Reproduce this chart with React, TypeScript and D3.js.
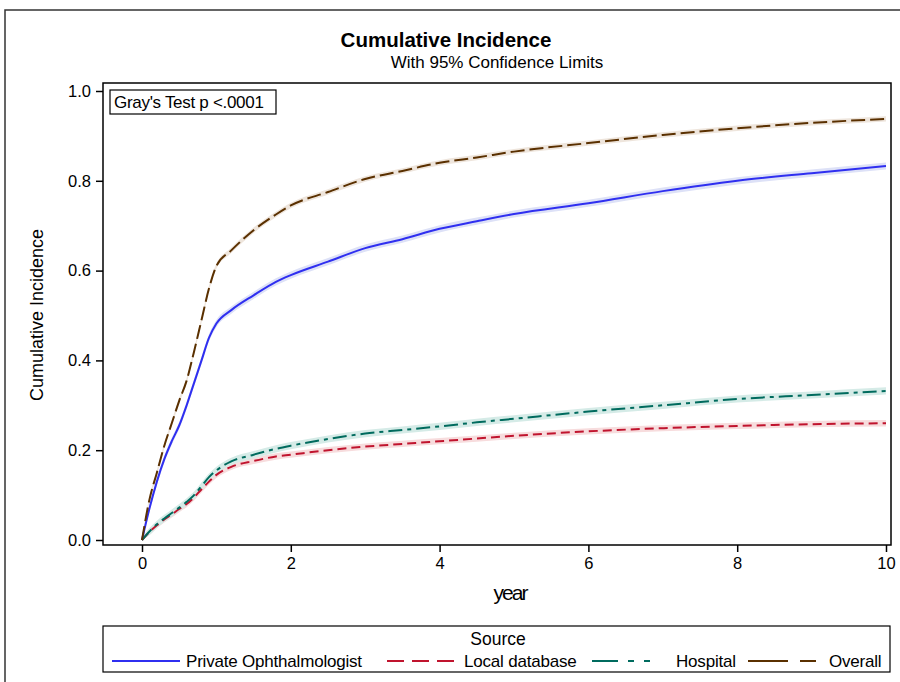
import React, { useEffect, useRef } from 'react';
import * as d3 from 'd3';

// time points (years) used by all series
const years = [0, 0.1, 0.2, 0.3, 0.4, 0.5, 0.6, 0.7, 0.8, 0.9, 1.0, 1.2, 1.5, 1.8, 2, 2.5, 3, 3.5, 4, 4.5, 5, 6, 7, 8, 9, 10];

const privateOph = [0, 0.07, 0.13, 0.18, 0.22, 0.255, 0.3, 0.35, 0.4, 0.45, 0.482, 0.512, 0.545, 0.575, 0.59, 0.62, 0.65, 0.67, 0.693, 0.71, 0.726, 0.75, 0.777, 0.8, 0.817, 0.833];
const localDb = [0, 0.018, 0.033, 0.046, 0.057, 0.069, 0.08, 0.095, 0.113, 0.13, 0.145, 0.163, 0.176, 0.186, 0.19, 0.2, 0.208, 0.214, 0.22, 0.226, 0.232, 0.242, 0.249, 0.254, 0.258, 0.26];
const hospital = [0, 0.019, 0.035, 0.048, 0.06, 0.072, 0.085, 0.1, 0.12, 0.14, 0.155, 0.175, 0.19, 0.203, 0.21, 0.225, 0.237, 0.245, 0.253, 0.262, 0.27, 0.286, 0.3, 0.314, 0.323, 0.332];
const overall = [0, 0.09, 0.15, 0.21, 0.26, 0.31, 0.355, 0.42, 0.49, 0.56, 0.61, 0.645, 0.69, 0.725, 0.745, 0.775, 0.804, 0.822, 0.84, 0.852, 0.865, 0.884, 0.902, 0.917, 0.929, 0.938];

// approx half width of the 95% confidence band, per series
const bandHalfWidth = [0.008, 0.007, 0.008, 0.006];

const seriesNames = ['Private Ophthalmologist', 'Local database', 'Hospital', 'Overall'];
const seriesColors = ['#2f2ff0', '#c0142e', '#006b5e', '#5a3000'];
const bandColors = ['#dde1f7', '#f7dcdd', '#d5ebe7', '#eee5dc'];
const dashes = ['none', '9,5', '14,5,4,5', '14,5'];
const legendDashes = ['none', '17,8', '26,10,6,10,6,10', '40,12'];

const xTicks = [0, 2, 4, 6, 8, 10];
const yTicks = [0, 0.2, 0.4, 0.6, 0.8, 1.0];

const FONT = '"Liberation Sans", Arial, sans-serif';

export default function App() {
  const svgRef = useRef<SVGSVGElement | null>(null);

  useEffect(() => {
    const svg = d3.select(svgRef.current);
    svg.selectAll('*').remove();

    const W = 900;
    const H = 682;
    svg.attr('width', W).attr('height', H);

    svg.append('rect').attr('width', W).attr('height', H).attr('fill', '#fff');
    // outer border
    svg.append('rect')
      .attr('x', 5).attr('y', 10).attr('width', W + 10).attr('height', H + 10)
      .attr('fill', 'none').attr('stroke', '#333').attr('stroke-width', 1.5);

    const frame = { left: 103, right: 891, top: 83, bottom: 545 };
    const x = d3.scaleLinear().domain([0, 10]).range([142, 886]);
    const y = d3.scaleLinear().domain([0, 1]).range([540, 91]);

    // titles
    svg.append('text').attr('x', 446).attr('y', 47).attr('text-anchor', 'middle')
      .attr('font-family', FONT).attr('font-size', 20.5).attr('font-weight', 'bold')
      .text('Cumulative Incidence');
    svg.append('text').attr('x', 497).attr('y', 68).attr('text-anchor', 'middle')
      .attr('font-family', FONT).attr('font-size', 17)
      .text('With 95% Confidence Limits');

    const allSeries = [privateOph, localDb, hospital, overall];
    const g = svg.append('g');

    // bands
    allSeries.forEach((vals, i) => {
      const area = d3.area<number>()
        .x((_, j) => x(years[j]))
        .y0(d => y(Math.max(0, d - bandHalfWidth[i])))
        .y1(d => y(d + bandHalfWidth[i]))
        .curve(d3.curveMonotoneX);
      g.append('path').attr('d', area(vals)).attr('fill', bandColors[i]);
    });

    // lines
    allSeries.forEach((vals, i) => {
      const line = d3.line<number>()
        .x((_, j) => x(years[j]))
        .y(d => y(d))
        .curve(d3.curveMonotoneX);
      g.append('path').attr('d', line(vals)).attr('fill', 'none')
        .attr('stroke', seriesColors[i]).attr('stroke-width', 2)
        .attr('stroke-dasharray', dashes[i]);
    });

    // frame
    svg.append('rect')
      .attr('x', frame.left).attr('y', frame.top)
      .attr('width', frame.right - frame.left).attr('height', frame.bottom - frame.top)
      .attr('fill', 'none').attr('stroke', '#000').attr('stroke-width', 1.5);

    // x axis
    const xAxis = svg.append('g').attr('transform', `translate(0,${frame.bottom})`)
      .call(d3.axisBottom(x).tickValues(xTicks).tickFormat(d3.format('d')).tickSize(7).tickPadding(5));
    xAxis.select('.domain').remove();
    xAxis.selectAll('line').attr('stroke', '#000').attr('stroke-width', 1.5);
    xAxis.selectAll('text').attr('font-family', FONT).attr('font-size', 16.5).attr('fill', '#000');

    // y axis
    const yAxis = svg.append('g').attr('transform', `translate(${frame.left},0)`)
      .call(d3.axisLeft(y).tickValues(yTicks).tickFormat(d3.format('.1f')).tickSize(7).tickPadding(5));
    yAxis.select('.domain').remove();
    yAxis.selectAll('line').attr('stroke', '#000').attr('stroke-width', 1.5);
    yAxis.selectAll('text').attr('font-family', FONT).attr('font-size', 16.5).attr('fill', '#000');

    // axis labels
    svg.append('text').attr('x', 510).attr('y', 600).attr('text-anchor', 'middle')
      .attr('font-family', FONT).attr('font-size', 21).attr('letter-spacing', -2)
      .text('year');
    svg.append('text')
      .attr('transform', `translate(43,${(frame.top + frame.bottom) / 2 + 1}) rotate(-90)`)
      .attr('text-anchor', 'middle').attr('font-family', FONT).attr('font-size', 18)
      .text('Cumulative Incidence');

    // Gray's test inset
    svg.append('rect').attr('x', 110).attr('y', 90).attr('width', 166).attr('height', 24)
      .attr('fill', '#fff').attr('stroke', '#000').attr('stroke-width', 1.2);
    svg.append('text').attr('x', 114).attr('y', 108).attr('font-family', FONT)
      .attr('font-size', 17).attr('letter-spacing', -0.3).text("Gray's Test p <.0001");

    // legend
    const leg = svg.append('g');
    leg.append('rect').attr('x', 103).attr('y', 626).attr('width', 787).attr('height', 46)
      .attr('fill', '#fff').attr('stroke', '#000').attr('stroke-width', 1.2);
    leg.append('text').attr('x', 498).attr('y', 645).attr('text-anchor', 'middle')
      .attr('font-family', FONT).attr('font-size', 17.5).text('Source');
    const lineStarts = [112, 387, 592, 748];
    const textStarts = [186, 464, 676, 829];
    lineStarts.forEach((lx, i) => {
      leg.append('line').attr('x1', lx).attr('x2', lx + 68).attr('y1', 661).attr('y2', 661)
        .attr('stroke', seriesColors[i]).attr('stroke-width', 2)
        .attr('stroke-dasharray', legendDashes[i] === 'none' ? null : legendDashes[i]);
      leg.append('text').attr('x', textStarts[i]).attr('y', 667).attr('font-family', FONT)
        .attr('font-size', 17).attr('letter-spacing', -0.2).text(seriesNames[i]);
    });
  }, []);

  return (
    <div style={{ position: 'absolute', left: 0, top: 0 }}>
      <svg ref={svgRef} style={{ display: 'block' }} />
    </div>
  );
}
